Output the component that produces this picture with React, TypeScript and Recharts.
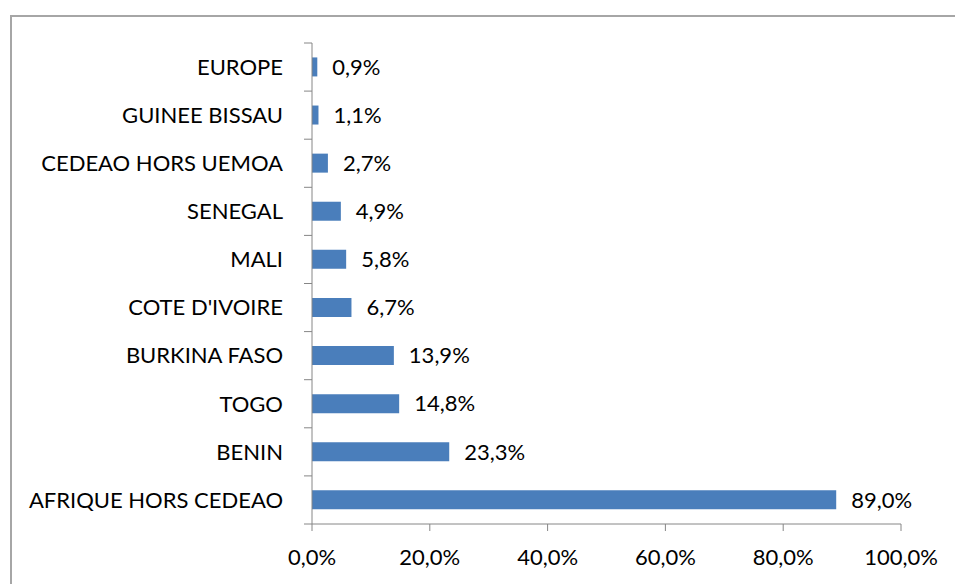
import { Bar, BarChart, LabelList, XAxis, YAxis } from "recharts";

const categories = [
  "EUROPE",
  "GUINEE BISSAU",
  "CEDEAO HORS UEMOA",
  "SENEGAL",
  "MALI",
  "COTE D'IVOIRE",
  "BURKINA FASO",
  "TOGO",
  "BENIN",
  "AFRIQUE HORS CEDEAO",
];
const shares = [0.9, 1.1, 2.7, 4.9, 5.8, 6.7, 13.9, 14.8, 23.3, 89.0];
const xTicks = [0, 20, 40, 60, 80, 100];

const data = categories.map((name, i) => ({ name, share: shares[i] }));

const pct = (v: number) => v.toFixed(1).replace(".", ",") + "%";

const FONT = "Lato, 'Open Sans', sans-serif";
const AXIS = "#868686";
const TEXT = "#000";
const LABEL_GAP = 29;
const MARK = 8;

// category labels, plus the small marks between bands (Excel style, not at band centres)
function CategoryTick(props: any) {
  const { x, y, payload, index, visibleTicksCount } = props;
  const half = payload?.offset ?? 0;
  const axisX = x + LABEL_GAP;
  return (
    <g>
      <line x1={axisX - MARK} x2={axisX} y1={y - half} y2={y - half} stroke={AXIS} />
      {index === visibleTicksCount - 1 && (
        <line x1={axisX - MARK} x2={axisX} y1={y + half} y2={y + half} stroke={AXIS} />
      )}
      <text x={x} y={y} dy="0.355em" textAnchor="end" fontSize={22} fontFamily={FONT} fill={TEXT}>
        {payload.value}
      </text>
    </g>
  );
}

export default function App() {
  return (
    <div style={{ position: "absolute", left: 0, top: 0, width: 955, height: 584, background: "#fff" }}>
      <div
        style={{
          position: "absolute",
          left: 10,
          top: 15,
          width: 945,
          height: 569,
          borderLeft: "2px solid #a6a6a6",
          borderTop: "2px solid #a6a6a6",
          boxSizing: "border-box",
        }}
      />
      <div style={{ position: "absolute", left: 0, top: 0 }}>
        <BarChart
          width={955}
          height={584}
          data={data}
          layout="vertical"
          margin={{ top: 43, right: 54, bottom: 0, left: 0 }}
          barCategoryGap="30%"
        >
          <YAxis
            type="category"
            dataKey="name"
            width={312}
            tickLine={false}
            tickSize={0}
            tickMargin={LABEL_GAP}
            axisLine={{ stroke: AXIS }}
            tick={<CategoryTick />}
            interval={0}
          />
          <XAxis
            type="number"
            domain={[0, 100]}
            ticks={xTicks}
            tickFormatter={pct}
            height={60}
            tickSize={7}
            tickMargin={18}
            axisLine={{ stroke: AXIS }}
            tickLine={{ stroke: AXIS }}
            tick={{ fontSize: 22, fill: TEXT, fontFamily: FONT }}
          />
          <Bar dataKey="share" fill="#4a7ebb" isAnimationActive={false}>
            <LabelList
              dataKey="share"
              position="right"
              offset={15}
              formatter={(v: any) => pct(Number(v))}
              style={{ fontSize: 22, fill: TEXT, fontFamily: FONT }}
            />
          </Bar>
        </BarChart>
      </div>
    </div>
  );
}
